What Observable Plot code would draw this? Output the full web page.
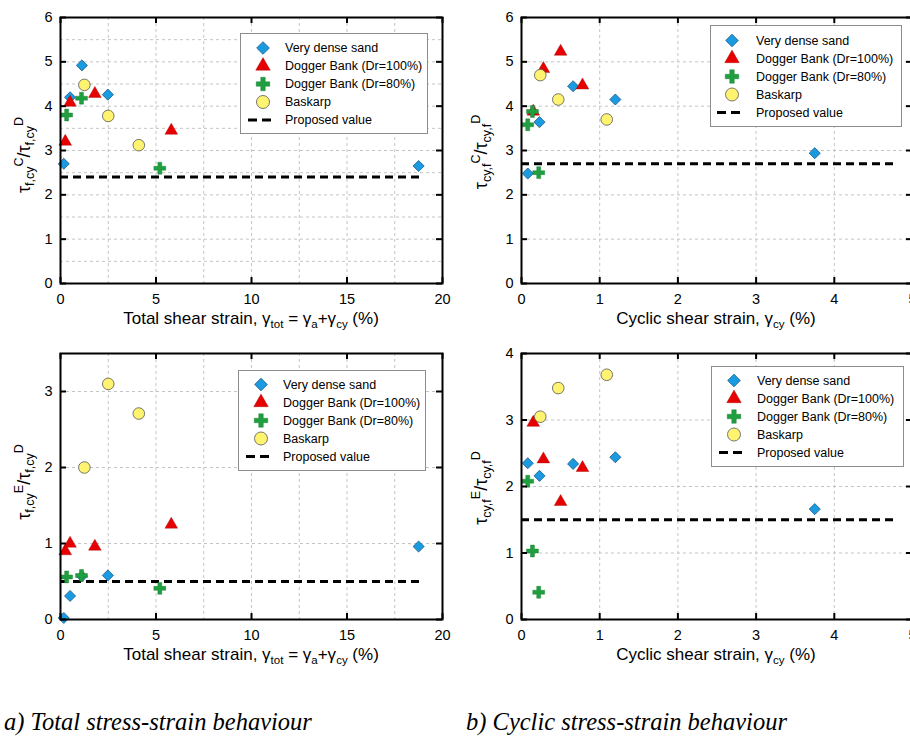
<!DOCTYPE html>
<html><head><meta charset="utf-8">
<script src="https://cdn.jsdelivr.net/npm/d3@7"></script>
<script src="https://cdn.jsdelivr.net/npm/@observablehq/plot@0.6"></script>
<style>
html,body{margin:0;padding:0;background:#fff;overflow:hidden;}
#root{position:relative;width:910px;height:739px;overflow:hidden;font-family:"Liberation Sans",Arial,sans-serif;color:#000;}
.panel{position:absolute;}
.xt{position:absolute;font-size:17px;white-space:nowrap;transform:translate(-50%,-50%);}
.yt{position:absolute;font-size:18px;line-height:18px;white-space:nowrap;transform:translate(-50%,-50%) rotate(-90deg);}
.xt sub{font-size:11.5px;line-height:0;vertical-align:-0.35em;}
.yt sub{font-size:12.5px;line-height:0;vertical-align:-0.35em;}
.yt sup{font-size:12.5px;line-height:0;vertical-align:0.55em;}
.leg{position:absolute;border:1px solid #8c8c8c;background:#fff;box-sizing:border-box;}
.cap{position:absolute;font-family:"Liberation Serif","Times New Roman",serif;font-style:italic;font-size:24.5px;white-space:nowrap;transform:translateY(-50%);}
</style></head>
<body><div id="root"></div>
<script>
// ---------- data ----------
const seriesNames = ["Very dense sand", "Dogger Bank (Dr=100%)", "Dogger Bank (Dr=80%)", "Baskarp"];
const proposedLabel = "Proposed value";

// total shear strain (%) per series
const vdsTot   = [0.17, 0.5, 1.12, 2.48, 18.75];
const db100Tot = [0.25, 0.5, 1.8, 5.8];
const db80Tot  = [0.32, 1.1, 5.2];
const baskTot  = [1.25, 2.5, 4.1];
// cyclic shear strain (%) per series
const vdsCyc   = [0.08, 0.23, 0.66, 1.2, 3.75];
const db100Cyc = [0.15, 0.28, 0.5, 0.78];
const db80Cyc  = [0.08, 0.14, 0.22];
const baskCyc  = [0.24, 0.47, 1.09];

// tau_f,cy^C / tau_f,cy^D  vs total strain
const vdsTotC   = [2.7, 4.2, 4.92, 4.26, 2.65];
const db100TotC = [3.2, 4.08, 4.28, 3.45];
const db80TotC  = [3.8, 4.18, 2.6];
const baskTotC  = [4.48, 3.78, 3.12];
// tau_f,cy^E / tau_f,cy^D  vs total strain
const vdsTotE   = [0.02, 0.31, 0.57, 0.58, 0.96];
const db100TotE = [0.9, 1.0, 0.96, 1.25];
const db80TotE  = [0.56, 0.58, 0.41];
const baskTotE  = [2.0, 3.1, 2.71];
// tau_cy,f^C / tau_cy,f^D  vs cyclic strain
const vdsCycC   = [2.48, 3.64, 4.45, 4.15, 2.94];
const db100CycC = [3.88, 4.84, 5.23, 4.47];
const db80CycC  = [3.58, 3.88, 2.5];
const baskCycC  = [4.7, 4.15, 3.7];
// tau_cy,f^E / tau_cy,f^D  vs cyclic strain
const vdsCycE   = [2.35, 2.16, 2.34, 2.44, 1.66];
const db100CycE = [2.96, 2.41, 1.77, 2.28];
const db80CycE  = [2.08, 1.03, 0.41];
const baskCycE  = [3.05, 3.48, 3.68];

// proposed values and their strain extents
const proposedValues = [2.4, 2.7, 0.5, 1.5];
const proposedTotExtent = [0, 19];
const proposedCycExtent = [0, 4.8];

// axis ticks
const totTicks = [0, 5, 10, 15, 20];
const cycTicks = [0, 1, 2, 3, 4, 5];
const yTicks6 = [0, 1, 2, 3, 4, 5, 6];
const yTicks35 = [0, 1, 2, 3];
const yTicks4 = [0, 1, 2, 3, 4];
const totGrid = [2.5, 5, 7.5, 10, 12.5, 15, 17.5];
const cycGrid = [1, 2, 3, 4];
const yGrid6half = [0.5, 1, 1.5, 2, 2.5, 3, 3.5, 4, 4.5, 5, 5.5];
const yGrid6 = [1, 2, 3, 4, 5];
const yGrid3 = [1, 2, 3];

const captions = ["a) Total stress-strain behaviour", "b) Cyclic stress-strain behaviour"];

// ---------- styles ----------
const styles = [
  {symbol: "diamond2", d3s: d3.symbolDiamond2, r: 5, fill: "#1a9ae0", stroke: "#1d5a86", sw: 0.8},
  {symbol: "triangle", d3s: d3.symbolTriangle, r: 4.7, fill: "#e60000", stroke: "#a30000", sw: 0.4},
  {symbol: "cross", d3s: d3.symbolCross, r: 5, fill: "#1f9f40", stroke: "#13772b", sw: 0.4},
  {symbol: "circle", d3s: d3.symbolCircle, r: 5.8, fill: "#fff370", stroke: "#555", sw: 0.8}
];

const root = document.getElementById("root");
const fmt = d => String(d);

function makePanel(cfg) {
  const innerH = cfg.height - cfg.mt - cfg.mb;
  const innerW = cfg.width - cfg.ml - cfg.mr;
  const marks = [
    Plot.gridX(cfg.xGrid, {stroke: "#c4c4c4", strokeOpacity: 1, strokeDasharray: "3,3"}),
    Plot.gridY(cfg.yGrid, {stroke: "#c4c4c4", strokeOpacity: 1, strokeDasharray: "3,3"}),
    Plot.ruleY([{y: cfg.prop, x1: cfg.propExt[0], x2: cfg.propExt[1]}],
      {y: "y", x1: "x1", x2: "x2", stroke: "black", strokeWidth: 3, strokeDasharray: "8,5"})
  ];
  cfg.xs.forEach((xs, i) => {
    const data = xs.map((x, j) => ({x, y: cfg.ys[i][j]}));
    const s = styles[i];
    marks.push(Plot.dot(data, {x: "x", y: "y", symbol: s.symbol, r: s.r, fill: s.fill,
      stroke: s.stroke, strokeWidth: s.sw, fillOpacity: 1}));
  });
  marks.push(
    Plot.frame({stroke: "black", strokeWidth: 2}),
    Plot.ruleX(cfg.xTicks, {insetTop: innerH - 6, strokeWidth: 2, stroke: "black"}),
    Plot.ruleX(cfg.xTicks, {insetBottom: innerH - 6, strokeWidth: 2, stroke: "black"}),
    Plot.ruleY(cfg.yTicks, {insetRight: innerW - 6, strokeWidth: 2, stroke: "black"}),
    Plot.ruleY(cfg.yTicks, {insetLeft: innerW - 6, strokeWidth: 2, stroke: "black"}),
    Plot.axisX(cfg.xTicks, {tickSize: 0, tickPadding: 10, label: null, fontSize: 14.5, tickFormat: fmt}),
    Plot.axisY(cfg.yTicks, {tickSize: 0, tickPadding: 8, label: null, fontSize: 14.5, tickFormat: fmt})
  );
  const p = Plot.plot({
    width: cfg.width, height: cfg.height,
    marginLeft: cfg.ml, marginRight: cfg.mr, marginTop: cfg.mt, marginBottom: cfg.mb,
    x: {domain: cfg.xDomain}, y: {domain: cfg.yDomain},
    style: {fontFamily: "Liberation Sans, Arial, sans-serif", fontSize: "14.5px", color: "black",
      background: "transparent", maxWidth: "none", overflow: "visible"},
    marks
  });
  const wrap = document.createElement("div");
  wrap.className = "panel";
  wrap.style.left = cfg.left + "px";
  wrap.style.top = cfg.top + "px";
  wrap.appendChild(p);
  root.appendChild(wrap);

  const xt = document.createElement("div");
  xt.className = "xt";
  xt.style.left = cfg.xtPos[0] + "px"; xt.style.top = cfg.xtPos[1] + "px";
  xt.innerHTML = cfg.xTitle;
  root.appendChild(xt);
  const yt = document.createElement("div");
  yt.className = "yt";
  yt.style.left = cfg.ytPos[0] + "px"; yt.style.top = cfg.ytPos[1] + "px";
  yt.innerHTML = cfg.yTitle;
  root.appendChild(yt);
  makeLegend(cfg.leg);
}

function makeLegend(L) {
  const d = document.createElement("div");
  d.className = "leg";
  Object.assign(d.style, {left: L.x + "px", top: L.y + "px", width: L.w + "px", height: L.h + "px"});
  const svg = d3.create("svg").attr("width", L.w).attr("height", L.h)
    .style("position", "absolute").style("left", "-1px").style("top", "-1px")
    .style("font-family", "Liberation Sans, Arial, sans-serif").style("font-size", "12.5px");
  const rows = seriesNames.concat([proposedLabel]);
  rows.forEach((name, i) => {
    const cy = L.r0 + i * 18;
    if (i < 4) {
      const s = styles[i];
      if (s.symbol === "circle") {
        svg.append("circle").attr("cx", L.sx).attr("cy", cy).attr("r", s.r + 0.7)
          .attr("fill", s.fill).attr("stroke", s.stroke).attr("stroke-width", s.sw);
      } else {
        const rr = s.r + 0.7;
        svg.append("path").attr("transform", `translate(${L.sx},${cy})`)
          .attr("d", d3.symbol(s.d3s, rr * rr * Math.PI)())
          .attr("fill", s.fill).attr("stroke", s.stroke).attr("stroke-width", s.sw);
      }
    } else {
      svg.append("line").attr("x1", L.sx - 15).attr("x2", L.sx + 8).attr("y1", cy).attr("y2", cy)
        .attr("stroke", "black").attr("stroke-width", 3).attr("stroke-dasharray", "9,5");
    }
    svg.append("text").attr("x", L.tx).attr("y", cy).attr("dy", "0.35em").text(name);
  });
  d.appendChild(svg.node());
  root.appendChild(d);
}

const totTitle = "Total shear strain, γ<sub>tot</sub> = γ<sub>a</sub>+γ<sub>cy</sub> (%)";
const cycTitle = "Cyclic shear strain, γ<sub>cy</sub> (%)";
const lefts = {ml: 60, mr: 18, width: 460, left: 0};
const rights = {ml: 66, mr: 13, width: 470, left: 455};

makePanel({...lefts, top: 0, height: 310, mt: 17, mb: 27,
  xDomain: [0, 20], yDomain: [0, 6], xTicks: totTicks, yTicks: yTicks6, xGrid: totGrid, yGrid: yGrid6half,
  xs: [vdsTot, db100Tot, db80Tot, baskTot], ys: [vdsTotC, db100TotC, db80TotC, baskTotC],
  prop: proposedValues[0], propExt: proposedTotExtent,
  xTitle: totTitle, xtPos: [251, 319],
  yTitle: "τ<sub>f,cy</sub><sup>C</sup>/τ<sub>f,cy</sub><sup>D</sup>", ytPos: [24, 155],
  leg: {x: 240, y: 33, w: 188, h: 101, r0: 15, sx: 23, tx: 45}});

makePanel({...rights, top: 0, height: 310, mt: 17, mb: 27,
  xDomain: [0, 5], yDomain: [0, 6], xTicks: cycTicks, yTicks: yTicks6, xGrid: cycGrid, yGrid: yGrid6,
  xs: [vdsCyc, db100Cyc, db80Cyc, baskCyc], ys: [vdsCycC, db100CycC, db80CycC, baskCycC],
  prop: proposedValues[1], propExt: proposedCycExtent,
  xTitle: cycTitle, xtPos: [716, 319],
  yTitle: "τ<sub>cy,f</sub><sup>C</sup>/τ<sub>cy,f</sub><sup>D</sup>", ytPos: [481, 152],
  leg: {x: 710, y: 25, w: 192, h: 102, r0: 15.5, sx: 22, tx: 46}});

makePanel({...lefts, top: 336, height: 310, mt: 17, mb: 27,
  xDomain: [0, 20], yDomain: [0, 3.5], xTicks: totTicks, yTicks: yTicks35, xGrid: totGrid, yGrid: yGrid3,
  xs: [vdsTot, db100Tot, db80Tot, baskTot], ys: [vdsTotE, db100TotE, db80TotE, baskTotE],
  prop: proposedValues[2], propExt: proposedTotExtent,
  xTitle: totTitle, xtPos: [251, 655],
  yTitle: "τ<sub>f,cy</sub><sup>E</sup>/τ<sub>f,cy</sub><sup>D</sup>", ytPos: [24, 482],
  leg: {x: 238, y: 370, w: 188, h: 101, r0: 14.5, sx: 23, tx: 45}});

makePanel({...rights, top: 336, height: 310, mt: 17, mb: 27,
  xDomain: [0, 5], yDomain: [0, 4], xTicks: cycTicks, yTicks: yTicks4, xGrid: cycGrid, yGrid: yGrid3,
  xs: [vdsCyc, db100Cyc, db80Cyc, baskCyc], ys: [vdsCycE, db100CycE, db80CycE, baskCycE],
  prop: proposedValues[3], propExt: proposedCycExtent,
  xTitle: cycTitle, xtPos: [716, 655],
  yTitle: "τ<sub>cy,f</sub><sup>E</sup>/τ<sub>cy,f</sub><sup>D</sup>", ytPos: [481, 488],
  leg: {x: 711, y: 366, w: 193, h: 101, r0: 14.5, sx: 23, tx: 46}});

captions.forEach((c, i) => {
  const e = document.createElement("div");
  e.className = "cap";
  e.style.left = (i === 0 ? 4 : 466) + "px";
  e.style.top = "722px";
  e.textContent = c;
  root.appendChild(e);
});
</script></body></html>
